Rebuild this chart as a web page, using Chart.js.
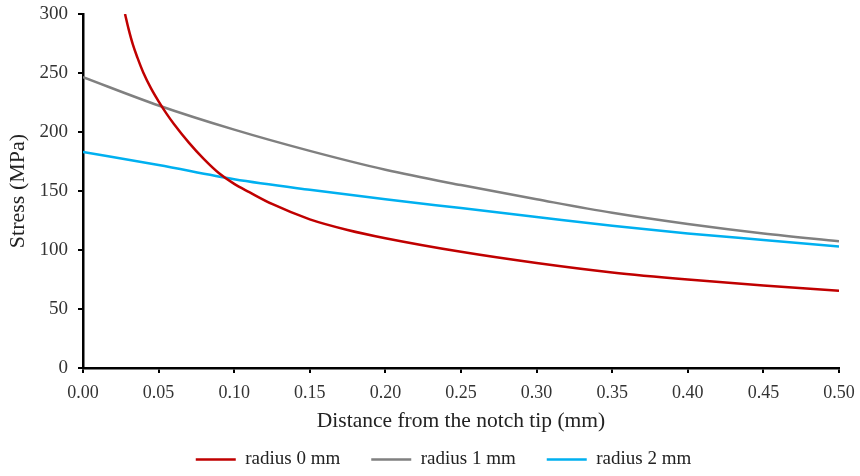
<!DOCTYPE html>
<html>
<head>
<meta charset="utf-8">
<script src="https://cdn.jsdelivr.net/npm/chart.js@4/dist/chart.umd.min.js"></script>
<style>
  html, body { margin: 0; padding: 0; background: #fff; }
  #wrap { width: 860px; height: 476px; }
</style>
</head>
<body>
<div id="wrap"><canvas id="stressChart" width="860" height="476"></canvas></div>
<script>
// Stress vs distance from notch tip
const seriesNames = ["radius 0 mm", "radius 1 mm", "radius 2 mm"]
const seriesColors = ["#c00000", "#808080", "#00b0f0"]

// radius 0 mm starts off the top of the axis, so it has its own x values
const distR0 = [0.0278, 0.030, 0.033, 0.036, 0.040, 0.045, 0.050, 0.055, 0.060, 0.070, 0.080, 0.090,
  0.100, 0.110, 0.125, 0.150, 0.175, 0.200, 0.250, 0.300, 0.350, 0.400, 0.450, 0.500]
const stressR0 = [300, 288, 274, 263, 250, 237, 226, 216, 207, 191, 177, 165,
  156, 149, 139, 126, 117, 110, 98.5, 89, 81, 75, 70, 65.5]

const dist = [0, 0.05, 0.10, 0.15, 0.20, 0.25, 0.30, 0.35, 0.40, 0.45, 0.50]
const stressR1 = [246.5, 222.5, 202, 184, 168, 155, 143, 131.5, 122, 114, 107.5]
const stressR2 = [183, 172, 160, 151, 143, 135.5, 128, 120.5, 114, 108.5, 103]

const toPoints = (xs, ys) => xs.map((x, i) => ({ x: x, y: ys[i] }))

const serif = "'Liberation Serif', 'Times New Roman', serif"
const axisColor = "#000"

// nudge the legend row so it sits where the original one does
const legendShift = {
  id: "legendShift",
  afterLayout(chart) {
    chart.legend.left += 24
    chart.legend.right += 24
    chart.legend.top += 3
    chart.legend.bottom += 3
  },
}

const ctx = document.getElementById("stressChart")
new Chart(ctx, {
  type: "scatter",
  data: {
    datasets: [
      { label: seriesNames[0], data: toPoints(distR0, stressR0) },
      { label: seriesNames[1], data: toPoints(dist, stressR1) },
      { label: seriesNames[2], data: toPoints(dist, stressR2) },
    ].map((d, i) => Object.assign(d, {
      showLine: true,
      borderColor: seriesColors[i],
      backgroundColor: seriesColors[i],
      borderWidth: 2.5,
      pointRadius: 0,
      pointHoverRadius: 0,
      cubicInterpolationMode: "monotone",
    })),
  },
  options: {
    responsive: false,
    animation: false,
    layout: { padding: { top: 14, right: 21, left: 0, bottom: 0 } },
    plugins: {
      tooltip: { enabled: false },
      legend: {
        position: "bottom",
        labels: {
          boxWidth: 40,
          boxHeight: 0,
          padding: 31,
          color: "#222",
          font: { family: serif, size: 19 },
        },
      },
    },
    scales: {
      x: {
        type: "linear",
        min: 0,
        max: 0.5,
        border: { color: axisColor, width: 2.5 },
        grid: { drawOnChartArea: false, drawTicks: true, tickLength: 5, color: axisColor, lineWidth: 2 },
        ticks: {
          stepSize: 0.05,
          padding: 9,
          color: "#333",
          font: { family: serif, size: 18 },
          callback: (v) => Number(v).toFixed(2),
        },
        title: {
          display: true,
          text: "Distance from the notch tip (mm)",
          color: "#222",
          font: { family: serif, size: 21.5 },
          padding: { top: 0, bottom: -18 },
        },
        afterFit(scale) {
          scale.height = 48
          scale.paddingLeft = 0
          scale.paddingRight = 0
        },
      },
      y: {
        min: 0,
        max: 300,
        border: { color: axisColor, width: 2.5 },
        grid: { drawOnChartArea: false, drawTicks: true, tickLength: 5, color: axisColor, lineWidth: 2 },
        ticks: {
          stepSize: 50,
          padding: 10,
          color: "#333",
          font: { family: serif, size: 19 },
        },
        title: {
          display: true,
          text: "Stress (MPa)",
          color: "#222",
          font: { family: serif, size: 22 },
          padding: { top: 5, bottom: 0 },
        },
        afterFit(scale) {
          scale.width = 83
          scale.paddingTop = 0
          scale.paddingBottom = 0
        },
      },
    },
  },
  plugins: [legendShift],
})
</script>
</body>
</html>
